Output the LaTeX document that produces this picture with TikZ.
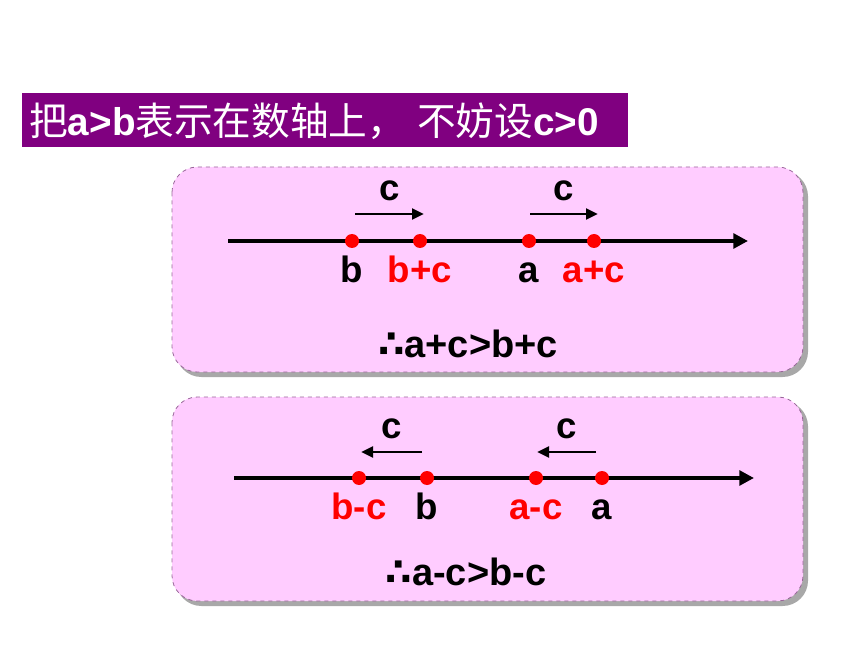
\documentclass[tikz,border=0pt]{standalone}
\usepackage{fontspec}
\setmainfont{Liberation Sans}
\newfontfamily\cjk{Noto Sans CJK SC}
\newfontfamily\symf{DejaVu Sans}
\usetikzlibrary{arrows.meta,positioning,calc}
\definecolor{barpurple}{HTML}{800080}
\definecolor{boxpink}{HTML}{FFCCFF}
\definecolor{boxedge}{HTML}{996699}
\definecolor{shadowgray}{HTML}{A8A8A8}

\tikzset{
  dot/.style={circle,fill=red,inner sep=0pt,minimum size=10.5pt},
  axis/.style={line width=3.2pt,-{Triangle[length=11pt,width=11pt]}},
  shiftarrow/.style={line width=2.2pt,-{Triangle[length=9pt,width=8pt]}},
  lbl/.style={font=\fontsize{27.5}{27.5}\selectfont\bfseries,inner sep=0pt,text height=19.8pt,text depth=0pt},
  clbl/.style={font=\fontsize{27.5}{27.5}\selectfont\bfseries,inner sep=0pt,above=9pt},
  result/.style={font=\fontsize{28.5}{28.5}\selectfont\bfseries},
  panel/.style={fill=boxpink,draw=boxedge,dashed,line width=0.6pt,rounded corners=19pt},
  shade/.style={fill=shadowgray,rounded corners=19pt}
}

\begin{document}
\begin{tikzpicture}[x=0.75pt,y=-0.75pt]
\useasboundingbox (0,0) rectangle (860,645);

% Title bar
\fill[barpurple] (22,93) rectangle (628,147);
\node[anchor=west,text=white,inner sep=0pt,font=\fontsize{29}{29}\selectfont\bfseries] (title) at (29,121)
  {{\cjk\mdseries 把}a>b{\cjk\mdseries 表示在数轴上，} {\cjk\mdseries 不妨设}c>0};

% ADDITION (upper panel)
\fill[shade] (176,171) rectangle (808,377);
\draw[panel] (172,167) rectangle (803,372);

\coordinate (s1) at (228,241);
\coordinate (e1) at (748,241);
\draw[axis] (s1) -- (e1);
\node[dot] (b1) at (352,241) {};
\node[dot] (bp) at (420,241) {};
\node[dot] (a1) at (529,241) {};
\node[dot] (ap) at (594,241) {};
\node[lbl,below=6pt of b1] (lb1) {b};
\node[lbl,below=6pt of bp,text=red] (lbp) {b+c};
\node[lbl,below=6pt of a1] (la1) {a};
\node[lbl,below=6pt of ap,text=red] (lap) {a+c};

% shift by c
\coordinate (u1) at (355,214);
\coordinate (v1) at (424,214);
\coordinate (u2) at (530,214);
\coordinate (v2) at (598,214);
\draw[shiftarrow] (u1) -- node[clbl] (c1) {c} (v1);
\draw[shiftarrow] (u2) -- node[clbl] (c2) {c} (v2);

\node[result] (res1) at (468,344) {{\symf ∴}a+c>b+c};

% SUBTRACTION (lower panel)
\fill[shade] (176,401) rectangle (808,606);
\draw[panel] (172,397) rectangle (803,601);

\coordinate (s2) at (234,478);
\coordinate (e2) at (754,478);
\draw[axis] (s2) -- (e2);
\node[dot] (bm) at (359,478) {};
\node[dot] (b2) at (427,478) {};
\node[dot] (am) at (536,478) {};
\node[dot] (a2) at (602,478) {};
\node[lbl,below=6pt of bm,text=red] (lbm) {b-c};
\node[lbl,below=6pt of b2] (lb2) {b};
\node[lbl,below=6pt of am,text=red] (lam) {a-c};
\node[lbl,below=6pt of a2] (la2) {a};

% shift back by c
\coordinate (u3) at (422,452);
\coordinate (v3) at (361,452);
\coordinate (u4) at (596,452);
\coordinate (v4) at (537,452);
\draw[shiftarrow] (u3) -- node[clbl] (c3) {c} (v3);
\draw[shiftarrow] (u4) -- node[clbl] (c4) {c} (v4);

\node[result] (res2) at (466,572) {{\symf ∴}a-c>b-c};
\end{tikzpicture}
\end{document}
